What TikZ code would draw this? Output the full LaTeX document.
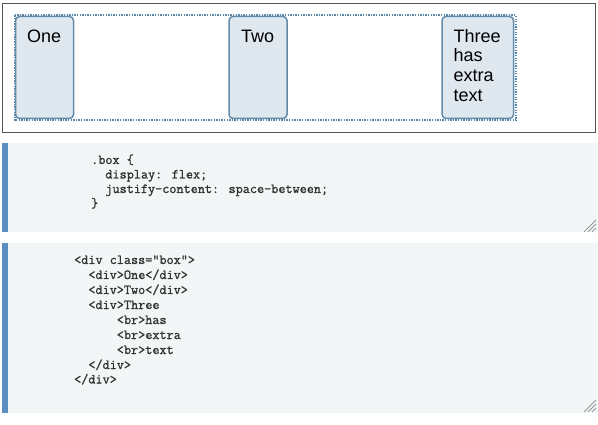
\documentclass[tikz,border=0pt]{standalone}
\usepackage{fontspec}
\setmainfont{Liberation Sans}
\newfontfamily\codefont{Latin Modern Mono}[FakeBold=1.2]
\definecolor{outerc}{HTML}{555555}
\definecolor{dotc}{HTML}{5B86A6}
\definecolor{itemfill}{HTML}{DFE7EF}
\definecolor{itemdraw}{HTML}{628BAA}
\definecolor{panelbg}{HTML}{F2F6F7}
\definecolor{barc}{HTML}{5A8DC0}
\definecolor{codec}{HTML}{333333}
\definecolor{handlec}{HTML}{999999}
\tikzset{
  itembox/.style={draw=itemdraw, fill=itemfill, line width=1.5pt, rounded corners=4pt,
    inner sep=0pt, outer sep=0pt, minimum height=102pt},
  itemtext/.style={anchor=base west, inner sep=0pt, font=\fontsize{18}{20}\selectfont, text=black},
  codeline/.style={anchor=base west, inner sep=0pt, font=\codefont\bfseries\fontsize{13.8}{15}\selectfont, text=codec},
  handle/.style={draw=handlec, line width=0.8pt}
}
\begin{document}
\begin{tikzpicture}[x=1pt,y=-1pt]
\useasboundingbox (0,0) rectangle (598,425);
% outer frame
\draw[outerc, line width=1pt] (2.5,3.5) rectangle (595.5,132.5);
% flex container
\draw[dotc, line width=2pt, dash pattern=on 1.3pt off 1.3pt] (14.5,15.5) rectangle (516,120.5);
% items
\node[itembox, minimum width=58pt] (one) at (44.5,67.5) {};
\node[itembox, minimum width=58pt] (two) at (258,67.5) {};
\node[itembox, minimum width=71.5pt] (three) at (477.75,67.5) {};
\node[itemtext] (tone) at (27,42.5) {One};
\node[itemtext] (ttwo) at (241,42.5) {Two};
\node[itemtext] (t1) at (453.3,42.3) {Three};
\node[itemtext] (t2) at (453.3,62) {has};
\node[itemtext] (t3) at (453.3,81.6) {extra};
\node[itemtext] (t4) at (453.3,101.2) {text};
% code panel 1
\fill[panelbg] (2,143.5) rectangle (598,232.5);
\fill[barc] (2,143.5) rectangle (7.5,232.5);
\node[codeline] (c1) at (91,164) {.box \{};
\node[codeline] (c2) at (91,178.5) {\ \ display: flex;};
\node[codeline] (c3) at (91,193) {\ \ justify-content: space-between;};
\node[codeline] (c4) at (91,207.5) {\}};
\foreach \d in {0,4,8}{\draw[handle] (596,220+\d) -- (584+\d,232);}
% code panel 2
\fill[panelbg] (2,243.5) rectangle (598,412.5);
\fill[barc] (2,243.5) rectangle (7.5,412.5);
\node[codeline] (h1) at (74,264) {<div class="box">};
\node[codeline] (h2) at (74,279) {\ \ <div>One</div>};
\node[codeline] (h3) at (74,294) {\ \ <div>Two</div>};
\node[codeline] (h4) at (74,309) {\ \ <div>Three};
\node[codeline] (h5) at (74,324) {\ \ \ \ \ \ <br>has};
\node[codeline] (h6) at (74,339) {\ \ \ \ \ \ <br>extra};
\node[codeline] (h7) at (74,354) {\ \ \ \ \ \ <br>text};
\node[codeline] (h8) at (74,369) {\ \ </div>};
\node[codeline] (h9) at (74,383.5) {</div>};
\foreach \d in {0,4,8}{\draw[handle] (596,400+\d) -- (584+\d,412);}
\end{tikzpicture}
\end{document}
